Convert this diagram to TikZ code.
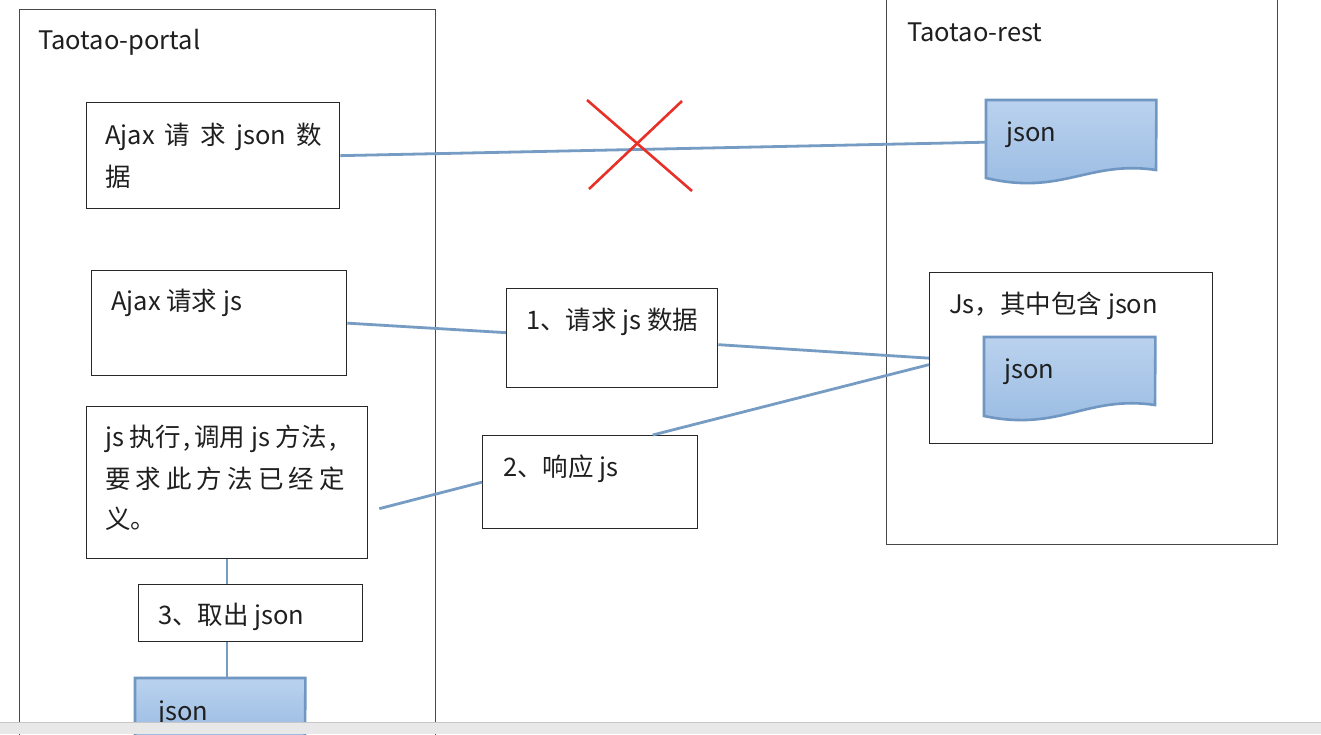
\documentclass[tikz,border=0pt]{standalone}
\usepackage{fontspec}
\setmainfont{Noto Sans CJK SC}
\usetikzlibrary{calc}
\definecolor{conn}{RGB}{118,156,196}
\definecolor{docedge}{RGB}{112,150,194}
\definecolor{doctop}{RGB}{186,210,238}
\definecolor{docbot}{RGB}{152,186,226}
\definecolor{boxedge}{RGB}{40,40,40}
\definecolor{crossred}{RGB}{232,48,40}
\tikzset{
  bigbox/.style={draw=boxedge!85, line width=1.2pt, fill=none, inner sep=0pt, anchor=north west},
  stepbox/.style={draw=boxedge, line width=1.3pt, fill=white, inner sep=0pt, anchor=north west},
  docarea/.style={inner sep=0pt, anchor=north west},
  txt/.style={inner sep=0pt, anchor=west, yshift=-2pt, font=\fontsize{25.5}{30}\selectfont, text=black!88},
  link/.style={draw=conn, line width=2.8pt},
  docshape/.style={draw=docedge, line width=2.6pt, top color=doctop, bottom color=docbot},
  cross/.style={draw=crossred, line width=2.6pt},
}
\begin{document}
\begin{tikzpicture}[x=1pt,y=-1pt]
\useasboundingbox (0,0) rectangle (1321,734);
\fill[white] (0,0) rectangle (1321,734);

% big containers
\node[bigbox, minimum width=416pt, minimum height=730pt] (portal) at (19,9) {};
\node[bigbox, minimum width=391pt, minimum height=560pt] (rest) at (886,-16) {};
\node[txt] (portalt) at (38,40) {Taotao-portal};
\node[txt] (restt) at (907,30) {Taotao-rest};

% left boxes
\node[stepbox, minimum width=253pt, minimum height=106pt] (a1) at (86,102) {};
\node[txt] (a1l1) at (105,135) {Ajax\hspace{0.4em}请\hspace{0.4em}求\hspace{0.4em}json\hspace{0.4em}数};
\node[txt] (a1l2) at (105,175) {据};

\node[stepbox, minimum width=255pt, minimum height=105pt] (a2) at (91,270) {};
\node[txt] (a2t) at (111,301) {Ajax 请求 js};

\node[stepbox, minimum width=281pt, minimum height=152pt] (a3) at (86,406) {};
\node[txt] (a3l1) at (105,437) {js 执行\hspace{0.1em},\hspace{0.15em}调用 js 方法\hspace{0.1em},};
\node[txt] (a3l2) at (105,477) {要\hspace{0.2em}求\hspace{0.2em}此\hspace{0.2em}方\hspace{0.2em}法\hspace{0.2em}已\hspace{0.2em}经\hspace{0.2em}定};
\node[txt] (a3l3) at (105,517) {义。};

\node[stepbox, minimum width=224pt, minimum height=57pt] (b3) at (138,584) {};
\node[txt] (b3t) at (158,615) {3、取出 json};

% middle boxes
\node[stepbox, minimum width=211pt, minimum height=99pt] (m1) at (506,288) {};
\node[txt] (m1t) at (526,320) {1、请求 js 数据};
\node[stepbox, minimum width=215pt, minimum height=93pt] (m2) at (482,435) {};
\node[txt] (m2t) at (503,467) {2、响应 js};

% right boxes
\node[stepbox, minimum width=283pt, minimum height=171pt] (jsb) at (929,272) {};
\node[txt] (jsbt) at (949,304) {Js，其中包含 json};

% document shapes
\node[docarea, minimum width=170pt, minimum height=84pt] (doc1) at (986,100) {};
\draw[docshape] (doc1.north west) -- (doc1.north east) -- (1156,170)
  .. controls (1088,160) and (1062,196) .. (986,178) -- cycle;
\node[txt] (doc1t) at (1006,133) {json};

\node[docarea, minimum width=171pt, minimum height=84pt] (doc2) at (984,337) {};
\draw[docshape] (doc2.north west) -- (doc2.north east) -- (1155,405)
  .. controls (1086,395) and (1060,432) .. (984,416) -- cycle;
\node[txt] (doc2t) at (1004,370) {json};

\node[docarea, minimum width=170pt, minimum height=60pt] (doc3) at (135,678) {};
\draw[docshape] (doc3.north west) -- (doc3.north east) -- (305,740) -- (135,740) -- cycle;
\node[txt] (doc3t) at (158,712) {json};

% connectors
\draw[link] (a1.east) -- (doc1.west);
\draw[link] (a2.east) -- ([yshift=5.5pt]m1.west);
\draw[link] ([yshift=-6.5pt]m1.east) -- (jsb.west);
\coordinate (a3out) at ([xshift=11pt,yshift=-26pt]a3.east);
\draw[link] (a3out) -- (m2.west);
\draw[link] ([xshift=62.5pt]m2.north) -- ([yshift=-6.5pt]jsb.west);
\draw[link, line width=2pt] (a3.south) -- (a3.south |- b3.north);
\draw[link, line width=2pt] (a3.south |- b3.south) -- (a3.south |- doc3.north);

% red cross
\coordinate (x1) at (587,100);
\coordinate (x2) at (692,191);
\coordinate (x3) at (682,101);
\coordinate (x4) at (589,189);
\draw[cross] (x1) -- (x2);
\draw[cross] (x3) -- (x4);

% bottom window bar
\fill[black!9] (0,722) rectangle (1321,734);
\draw[black!22, line width=1pt] (0,722) -- (1321,722);
\end{tikzpicture}
\end{document}
